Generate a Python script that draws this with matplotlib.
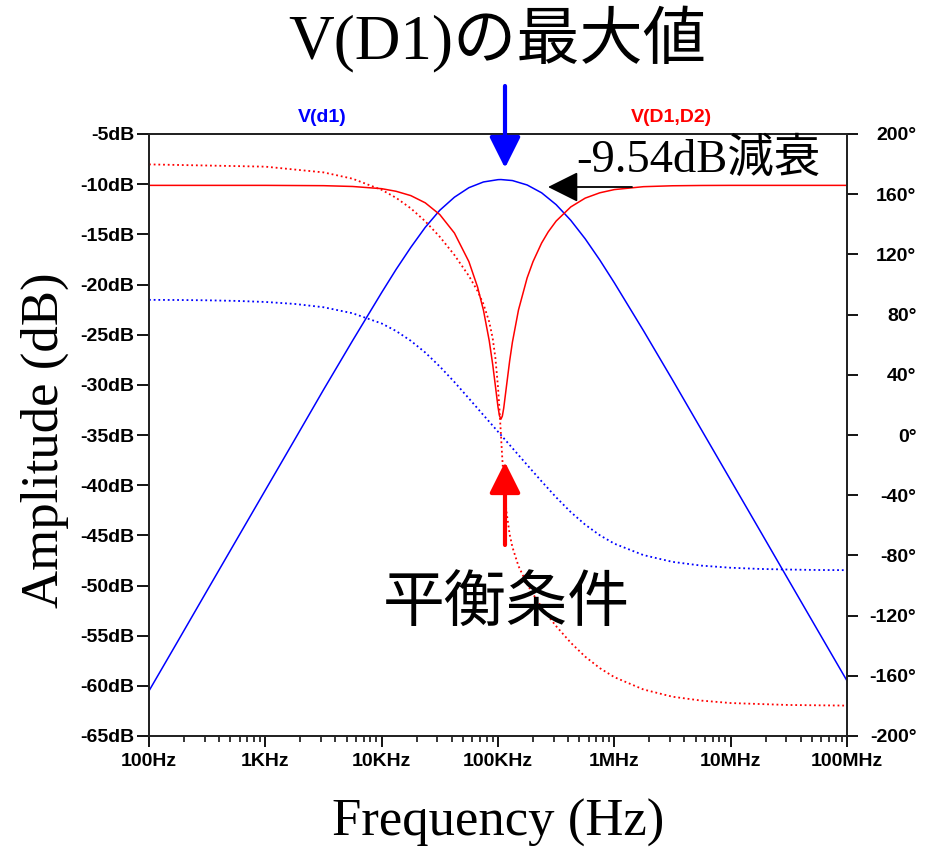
import matplotlib.pyplot as plt
from matplotlib.ticker import FixedLocator, LogLocator, NullFormatter

W, H = 933, 850

# V(d1): 振幅 (dB) と位相 (deg)
f_d1 = [100, 178, 316, 562, 1e3, 1.78e3, 3.16e3, 5.62e3, 1e4, 1.33e4, 1.78e4,
        2.37e4, 3.16e4, 4.22e4, 5.62e4, 7.5e4, 1e5, 1.06e5, 1.33e5, 1.78e5,
        2.37e5, 3.16e5, 4.22e5, 5.62e5, 7.5e5, 1e6, 1.78e6, 3.16e6, 5.62e6,
        1e7, 1.78e7, 3.16e7, 5.62e7, 1e8]
d1_db = [-60.5, -55.5, -50.5, -45.5, -40.5, -35.5, -30.5, -25.6, -20.8, -18.5,
         -16.3, -14.3, -12.6, -11.3, -10.35, -9.78, -9.55, -9.54, -9.64, -10.08,
         -10.86, -12.04, -13.6, -15.45, -17.56, -19.83, -24.6, -29.5, -34.5,
         -39.5, -44.5, -49.5, -54.5, -59.5]
d1_deg = [89.8, 89.7, 89.5, 89.1, 88.4, 87.1, 84.9, 80.9, 74.1, 69.1, 62.6,
          54.8, 45.5, 35.2, 24.3, 13.2, 2.2, 0.0, -8.7, -19.9, -30.8, -41.4,
          -51.2, -59.6, -66.6, -72.2, -79.8, -84.3, -86.8, -88.2, -89.0, -89.4,
          -89.7, -89.8]

# V(D1,D2): 振幅 (dB) と位相 (deg)
f_diff = [100, 1e3, 3.16e3, 5.62e3, 1e4, 1.33e4, 1.78e4, 2.37e4, 3.16e4,
          4.22e4, 5.62e4, 6.68e4, 7.5e4, 8.41e4, 9e4, 9.5e4, 1e5, 1.03e5,
          1.06e5, 1.09e5, 1.12e5, 1.18e5, 1.26e5, 1.33e5, 1.5e5, 1.78e5, 2e5,
          2.37e5, 2.7e5, 3.16e5, 4.22e5, 5.62e5, 7.5e5, 1e6, 1.78e6, 3.16e6,
          5.62e6, 1e7, 3.16e7, 1e8]
diff_db = [-10.12, -10.12, -10.15, -10.23, -10.45, -10.71, -11.14, -11.86,
           -13.03, -14.87, -17.72, -20.27, -22.57, -25.61, -27.95, -30.13,
           -32.21, -33.09, -33.42, -33.11, -32.32, -30.22, -27.60, -25.75,
           -22.54, -19.34, -17.72, -15.87, -14.76, -13.68, -12.27, -11.39,
           -10.86, -10.54, -10.25, -10.16, -10.13, -10.12, -10.12, -10.12]
diff_deg = [179.8, 178.3, 174.5, 170.3, 162.9, 157.6, 150.6, 142.0, 131.7,
            119.6, 105.7, 95.6, 87.0, 75.1, 64.3, 51.1, 31.9, 16.7, 0.0, -16.3,
            -30.3, -50.4, -66.1, -74.5, -87.1, -99.1, -105.7, -114.3, -120.3,
            -127.0, -138.0, -147.3, -154.9, -160.9, -169.1, -173.9, -176.5,
            -178.1, -179.4, -179.8]

x_ticks = [1e2, 1e3, 1e4, 1e5, 1e6, 1e7, 1e8]
x_labels = ['100Hz', '1KHz', '10KHz', '100KHz', '1MHz', '10MHz', '100MHz']
db_ticks = list(range(-5, -66, -5))
deg_ticks = list(range(200, -201, -40))

serif_jp = ['Liberation Serif', 'Noto Sans CJK JP']
tick_font = 'Liberation Sans'


def px(x, y):
    # 画像のピクセル座標 -> figure 座標
    return x / W, 1 - y / H


fig = plt.figure(figsize=(W / 100, H / 100), dpi=100)
ax = fig.add_axes([149 / W, 1 - 736 / H, (847 - 149) / W, (736 - 134) / H])
ax2 = ax.twinx()

dot = (0, (1, 1.6))
ax.plot(f_d1, d1_db, color='#0000ff', lw=1.1)
ax.plot(f_diff, diff_db, color='#ff0000', lw=1.1)
ax2.plot(f_d1, d1_deg, color='#0000ff', lw=1.3, ls=dot)
ax2.plot(f_diff, diff_deg, color='#ff0000', lw=1.3, ls=dot)

ax.set_xscale('log')
ax.set_xlim(1e2, 1e8)
ax.set_ylim(-65, -5)
ax2.set_ylim(-200, 200)

ax.xaxis.set_major_locator(FixedLocator(x_ticks))
ax.set_xticklabels(x_labels)
ax.xaxis.set_minor_locator(LogLocator(base=10, subs=range(2, 10), numticks=20))
ax.xaxis.set_minor_formatter(NullFormatter())
ax.set_yticks(db_ticks)
ax.set_yticklabels([f'{v}dB' for v in db_ticks])
ax2.set_yticks(deg_ticks)
ax2.set_yticklabels([f'{v}°' for v in deg_ticks])

for a in (ax, ax2):
    for s in a.spines.values():
        s.set_linewidth(1.3)
        s.set_color('#222222')
ax.tick_params(axis='x', which='major', direction='out', length=8, width=1.3,
               pad=4)
ax.tick_params(axis='x', which='minor', direction='out', length=4.5, width=1.1)
ax.tick_params(axis='y', direction='out', length=8.5, width=1.3, pad=2)
ax2.tick_params(axis='y', direction='out', length=8, width=1.3, pad=42)
for lab in ax.get_xticklabels() + ax.get_yticklabels() + ax2.get_yticklabels():
    lab.set_fontfamily(tick_font)
    lab.set_fontsize(14)
    lab.set_fontweight('bold')
for lab in ax2.get_yticklabels():
    lab.set_horizontalalignment('right')

# 軸ラベル・凡例
fig.text(*px(45, 440), 'Amplitude (dB)', rotation=90, ha='center', va='center',
         fontsize=38, family=serif_jp)
fig.text(*px(498, 823), 'Frequency (Hz)', ha='center', va='center',
         fontsize=38, family=serif_jp)
fig.text(*px(322, 117), 'V(d1)', ha='center', va='center', color='#0000ff',
         fontsize=14, family=tick_font, fontweight='bold')
fig.text(*px(671, 117), 'V(D1,D2)', ha='center', va='center', color='#ff0000',
         fontsize=14, family=tick_font, fontweight='bold')

# 注釈
fig.text(*px(497, 40), 'V(D1)の最大値', ha='center', va='center', fontsize=45.5,
         family=serif_jp)
fig.text(*px(698, 160), '-9.54dB減衰', ha='center', va='center', fontsize=33.5,
         family=serif_jp)
fig.text(*px(506, 606), '平衡条件', ha='center', va='center', fontsize=44.5,
         family=serif_jp)

arrows = [((505, 168), (505, 86), '#0000ff', 3.0),
          ((548, 187), (632, 187), 'black', 1.3),
          ((505, 462), (505, 545), '#ff0000', 3.0)]
for tip, tail, col, lw in arrows:
    fig.add_artist(plt.Annotation(
        '', xy=px(*tip), xytext=px(*tail), xycoords='figure fraction',
        textcoords='figure fraction',
        arrowprops=dict(arrowstyle='-|>,head_length=1.0,head_width=0.5',
                        color=col, lw=lw, mutation_scale=19,
                        shrinkA=0, shrinkB=0)))

fig.savefig('out.png', dpi=100)
